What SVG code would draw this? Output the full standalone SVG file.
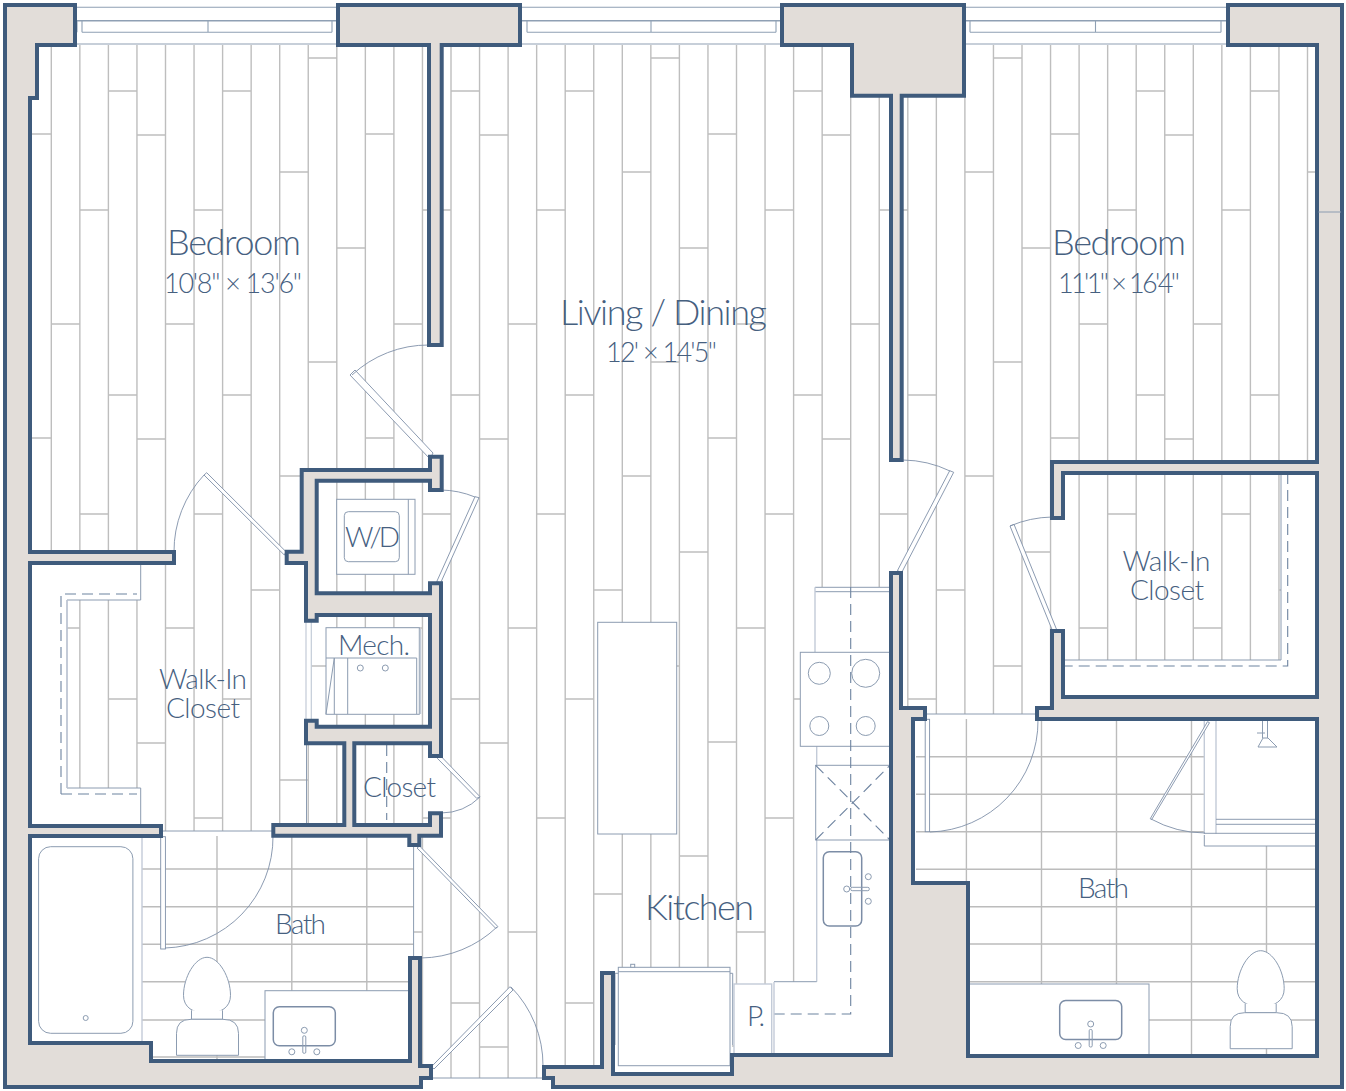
<svg xmlns="http://www.w3.org/2000/svg" xmlns:xlink="http://www.w3.org/1999/xlink" width="1346" height="1091" viewBox="0 0 1346 1091">
<style>
.plank{fill:none;stroke:#bebebe;stroke-width:1.4}
.tile{fill:none;stroke:#bcbcbc;stroke-width:1.4}
.wall{fill:#e2ddd9;stroke:#3f5b7c;stroke-width:4;stroke-linejoin:miter}
.fx{fill:#fff;stroke:#8c9cb1;stroke-width:1}
.ln{fill:none;stroke:#8c9cb1;stroke-width:1}
.lt{fill:none;stroke:#c3cbd8;stroke-width:1.4}
.win{fill:none;stroke:#8fa0b4;stroke-width:1.1}
.leaf{fill:#fff;stroke:#7f90a8;stroke-width:.9}
.arc{fill:none;stroke:#7f90a8;stroke-width:.9}
.dash{fill:none;stroke:#6d83a0;stroke-width:1.1;stroke-dasharray:11 6}
.sink{fill:#fff;stroke:#7c8da6;stroke-width:1.5}
.big{font-family:"Lato","Open Sans",sans-serif;font-weight:300;font-size:36px;fill:#46607f}
.mid{font-family:"Lato","Open Sans",sans-serif;font-weight:300;font-size:28px;fill:#46607f}
.dim{font-family:"Lato","Open Sans",sans-serif;font-weight:300;font-size:27px;fill:#46607f}
</style>
<defs>
<clipPath id="floorClip"><rect x="6" y="45" width="1334" height="1033"/></clipPath>
<g id="plankRun">
<path class="plank" d="M51.3 45V1078M79.85 45V1078M108.4 45V1078M136.95 45V1078M165.5 45V1078M194.05 45V1078M222.6 45V1078M251.15 45V1078M279.7 45V1078M308.25 45V1078M336.8 45V1078M365.35 45V1078
M51.3 324H79.85M51.3 628H79.85M51.3 932H79.85
M79.85 210H108.4M79.85 514H108.4M79.85 818H108.4
M108.4 91H136.95M108.4 395H136.95M108.4 699H136.95M108.4 1003H136.95
M136.95 135H165.5M136.95 439H165.5M136.95 743H165.5M136.95 1047H165.5
M165.5 324H194.05M165.5 628H194.05M165.5 932H194.05
M194.05 210H222.6M194.05 514H222.6M194.05 818H222.6
M222.6 91H251.15M222.6 395H251.15M222.6 699H251.15M222.6 1003H251.15
M251.15 590H279.7M251.15 894H279.7
M279.7 172H308.25M279.7 476H308.25M279.7 780H308.25
M308.25 58H336.8M308.25 362H336.8M308.25 666H336.8M308.25 970H336.8
M336.8 248H365.35M336.8 552H365.35M336.8 856H365.35
M365.35 134H393.9M365.35 438H393.9M365.35 742H393.9M365.35 1046H393.9"/>
</g>
<g id="eggToilet">
<path class="fx" d="M0 0C12 0 23.500 20 23.500 38C23.500 50 14 56 0 56C-14 56 -23.500 50 -23.500 38C-23.500 20 -12 0 0 0Z"/>
<path class="fx" d="M-15.500 53V62H15.500V53"/>
<path class="fx" d="M-30.500 98V76Q-30.500 62 -16 62H16Q31.500 62 31.500 76V98Z"/>
</g>
<g id="vanitySink">
<rect class="sink" x="-31" y="-23.500" width="62" height="39" rx="6"/>
<circle class="ln" cx="0" cy="0" r="3"/>
<rect class="ln" x="-1.500" y="5.500" width="3" height="17.500" rx="1.200"/>
<circle class="ln" cx="-12.500" cy="21.500" r="3"/>
<circle class="ln" cx="12.500" cy="21.500" r="3"/>
</g>
</defs>
<rect width="1346" height="1091" fill="#fff"/>

<g id="flooring" clip-path="url(#floorClip)">
<use xlink:href="#plankRun" href="#plankRun" x="-342.6"/>
<use xlink:href="#plankRun" href="#plankRun"/>
<use xlink:href="#plankRun" href="#plankRun" x="342.6"/>
<use xlink:href="#plankRun" href="#plankRun" x="685.2"/>
<use xlink:href="#plankRun" href="#plankRun" x="1027.8"/>
</g>

<g id="windows">
<path class="win" d="M75 7.300H338M82 32.300H332M75 44H338M82 20.700V32.300M208 20.700V32.300M332 20.700V32.300M77 20.700V32.300"/>
<path class="win" d="M520 7.300H782M527 32.300H776M520 44H782M527 20.700V32.300M651 20.700V32.300M776 20.700V32.300"/>
<path class="win" d="M964 7.300H1228M970 32.300H1221M964 44H1228M970 20.700V32.300M1095.500 20.700V32.300M1221 20.700V32.300"/>
<path class="win" style="stroke-width:1.600" d="M75 20.700H338M520 20.700H782M964 20.700H1228"/>
</g>

<g id="left-walk-in-shelving">
<path fill="#fff" stroke="none" d="M30 563H140.700V600H67V788H140.700V826H30Z"/>
<path class="ln" d="M140.700 563V600H67V788H140.700V826"/>
<path class="lt" d="M67 600V788"/>
<path class="dash" d="M61 794V594H137M61 794H137"/>
</g>

<g id="right-walk-in-shelving">
<path fill="#fff" stroke="none" d="M1281 473H1317V697H1063V660H1281Z"/>
<path class="ln" d="M1281 473V660H1063"/>
<path class="dash" d="M1287.700 473V666H1063"/>
</g>

<g id="left-bath">
<rect x="30" y="831" width="384" height="231" fill="#fff"/>
<path class="tile" d="M142 869H414M142 906.700H414M142 944.300H414M142 981.700H414M142 1020H414M142 1057H414M217 836V1061M291.800 836V1061M366.800 836V1061"/>
<path class="ln" d="M161 831H273M413.600 836V958"/>
<path class="lt" d="M142 836V1043"/>
<rect class="fx" x="38.600" y="846.700" width="94.300" height="186.600" rx="12"/>
<circle class="ln" cx="85.700" cy="1018" r="2.500"/>
<use xlink:href="#eggToilet" href="#eggToilet" x="207" y="957.300"/>
<rect class="fx" x="265" y="990.700" width="145" height="70"/>
<use xlink:href="#vanitySink" href="#vanitySink" x="304.300" y="1030.300"/>
</g>

<g id="right-bath">
<rect x="913" y="714" width="404" height="342" fill="#fff"/>
<path class="tile" d="M916 756.700H1317M916 794.300H1317M916 831.700H1317M916 869.300H1317M968 906.700H1317M968 944H1317M968 981.700H1317M968 1020H1317M966.400 719V1056M1041.500 719V1056M1116.500 719V1056M1191.500 719V1056M1266.500 846V1056"/>
<path class="ln" d="M925 714H1037"/>
<rect x="1204.300" y="719" width="113" height="127" fill="#fff"/>
<path class="lt" d="M1204.300 719V834M1216 719V834"/>
<path class="ln" d="M1216 819.300H1317M1216 824.300H1317M1204.300 833.300H1317M1204.300 835V846H1317"/>
<path class="ln" d="M1262.500 721V738M1267.500 721V738M1257 733H1265M1258 747L1263 738H1268L1277 747Z"/>
<rect class="fx" x="968" y="984" width="181" height="72"/>
<use xlink:href="#vanitySink" href="#vanitySink" x="1090.700" y="1024"/>
<use xlink:href="#eggToilet" href="#eggToilet" x="1260.700" y="950.700"/>
</g>

<g id="kitchen">
<rect class="fx" x="597.700" y="622.300" width="79" height="211.700"/>
<path fill="#fff" stroke="none" d="M815 587H890V1055H774V982H817V746H800V652H815Z"/>
<path class="ln" d="M815 587.300H890M815 591.700H890"/>
<path class="lt" d="M815 587.300V652.300M816.700 746V981.700"/>
<path class="ln" d="M816.700 981.700H774"/>
<rect class="fx" x="800.300" y="652.300" width="89.700" height="94"/>
<circle class="ln" cx="819.300" cy="673.300" r="11"/>
<circle class="ln" cx="865.700" cy="673.300" r="14"/>
<circle class="ln" cx="819.300" cy="726" r="9.500"/>
<circle class="ln" cx="865.700" cy="726" r="9.500"/>
<rect class="fx" x="815.700" y="765.300" width="74.300" height="74.700"/>
<path class="dash" d="M815.700 840L890 765.300M815.700 765.300L890 840"/>
<rect class="sink" x="823.300" y="851.700" width="38.400" height="74.300" rx="6"/>
<circle class="ln" cx="846.700" cy="889" r="3"/>
<circle class="ln" cx="868.300" cy="876.700" r="3"/>
<circle class="ln" cx="868.300" cy="901.300" r="3"/>
<rect class="ln" x="850.700" y="887.300" width="18.600" height="3.400" rx="1.500"/>
<path class="dash" d="M850.700 587V1014H774"/>
<rect x="613" y="973" width="119" height="101" fill="#fff"/>
<rect class="fx" x="618.300" y="967.300" width="111.700" height="98.400"/>
<path class="ln" d="M618.300 971.700H730M615 1045V973.300H618.300M732.700 1045V973.300H730"/>
<rect class="fx" x="630.700" y="964.300" width="4" height="3"/>
<rect x="734" y="984" width="37.700" height="71" fill="#fff" stroke="#c3cbd8" stroke-width="1.400"/>
<path class="lt" d="M774 982V1055"/>
</g>

<g id="laundry-and-mech">
<rect class="fx" x="336.700" y="499.300" width="78.300" height="75"/>
<path class="ln" d="M408.300 499.300V574.300"/>
<rect class="ln" x="344.300" y="511.700" width="55" height="50" rx="4"/>
<rect class="fx" x="326" y="627.700" width="93.300" height="86.600"/>
<path class="lt" d="M420.500 629V714"/>
<path class="ln" d="M326 658H416.700V714M334.300 658V714M347.700 658V714M334.300 658L326 714"/>
<circle class="ln" cx="360.300" cy="668" r="3"/>
<circle class="ln" cx="385.300" cy="668" r="3"/>
<path class="dash" d="M386.700 745V820"/>
<path class="ln" d="M306.500 743V826"/>
<rect x="306" y="621" width="5.300" height="99" fill="#fff" stroke="#c3cbd8" stroke-width="1.200"/>
</g>

<g id="doors">
<path class="leaf" d="M355 370L433 453L430 459L350 375Z"/>
<path class="arc" d="M429 345A112 112 0 0 0 352 375"/>
<path class="leaf" d="M206.700 472.700L286 551.700L284.300 555L204 475Z"/>
<path class="arc" d="M174 552A112 112 0 0 1 204 475"/>
<path class="leaf" d="M475 496.700L479 497.700L440.700 582.700L436.700 581.700Z"/>
<path class="arc" d="M441 490A93 93 0 0 1 475 497"/>
<path class="leaf" d="M437.300 758.300L440.700 756L480 796.700L476.700 798.300Z"/>
<path class="arc" d="M441 813A56 56 0 0 0 480 797"/>
<path class="leaf" d="M417 848L419.600 846L498 926.700L495.700 928.300Z"/>
<path class="arc" d="M421 958A112 112 0 0 0 497 927"/>
<path class="leaf" d="M431.400 1066.700L434 1069L513 990L510 986.700Z"/>
<path class="arc" d="M511 987A112 112 0 0 1 543 1066"/>
<path class="ln" d="M431 1078H544"/>
<rect class="leaf" x="160.700" y="836.700" width="4.700" height="112.300"/>
<path class="arc" d="M273 836A111 111 0 0 1 165 948"/>
<path class="leaf" d="M897.400 570.700L901.800 572.300L953.700 472.300L949.700 470.700Z"/>
<path class="arc" d="M903 460A112 112 0 0 1 950 471"/>
<path class="leaf" d="M1010 526L1014 524.300L1056.500 629.300L1052.500 630.700Z"/>
<path class="arc" d="M1052 517A113 113 0 0 0 1010 526"/>
<rect class="leaf" x="925.200" y="719.300" width="4.400" height="112.400"/>
<path class="arc" d="M1038 720A111 111 0 0 1 930 832"/>
<path class="leaf" d="M1207.500 721.700L1209.500 722.700L1151.700 819.500L1150.200 818.800Z"/>
<path class="arc" d="M1151 819A114 114 0 0 0 1205 833"/>
</g>

<g id="walls">
<path id="wall-west" class="wall" d="M5 5H75V45H37V98H30V552H174V563H30V826H161V836H30V1043H151V1061H410V958H420V1066H431V1078H421V1087H5Z"/>
<path id="wall-north-centre" class="wall" d="M338 5H520V45H441.700V345H429V45H338Z"/>
<path id="wall-north-east" class="wall" d="M782 5H964V95.700H901.700V460H891V95.700H852V45H782Z"/>
<path id="wall-core" class="wall" d="M441.700 456.700H430V470H301.700V551.700H286.700V563H306V620.700H316.700V615H430V726.700H316.700V720.700H306V743.300H344.300V825H273.300V835.700H409.300V845H419.300V835.700H441V813.300H430V825H354.300V743.300H430V756H441V583.300H430V593.300H316.700V480.700H430V490H441.700Z"/>
<path id="wall-east" class="wall" d="M891 1055V573H901V708H925V719H913V883H968V1056H1317V719H1037V708H1052V631H1063V697H1317V473H1063V518H1052V462H1317V45H1228V5H1342V1087H553V1078H544V1067H602V973H613V1074H732V1055Z"/>
<path class="ln" d="M1318.500 212H1341"/>
</g>

<g id="labels">
<text class="big" x="167" y="255" textLength="134" lengthAdjust="spacing">Bedroom</text>
<text class="dim" x="164" y="292.500" textLength="138" lengthAdjust="spacing">10'8" × 13'6"</text>
<text class="big" x="560" y="325" textLength="207" lengthAdjust="spacing">Living / Dining</text>
<text class="dim" x="606" y="362" textLength="111" lengthAdjust="spacing">12' × 14'5"</text>
<text class="big" x="1052" y="255" textLength="134" lengthAdjust="spacing">Bedroom</text>
<text class="dim" x="1058" y="292.500" textLength="122" lengthAdjust="spacing">11'1" × 16'4"</text>
<text class="mid" x="159" y="688.500" textLength="88" lengthAdjust="spacing">Walk-In</text>
<text class="mid" x="166" y="718" textLength="74" lengthAdjust="spacing">Closet</text>
<text class="mid" x="1122.500" y="571" textLength="88" lengthAdjust="spacing">Walk-In</text>
<text class="mid" x="1130" y="600" textLength="74" lengthAdjust="spacing">Closet</text>
<text class="mid" x="345" y="547" textLength="55" lengthAdjust="spacing">W/D</text>
<text class="mid" x="338" y="655" textLength="72" lengthAdjust="spacing">Mech.</text>
<text class="mid" x="363" y="797" textLength="73" lengthAdjust="spacing">Closet</text>
<text class="mid" x="275" y="934" textLength="51" lengthAdjust="spacing">Bath</text>
<text class="mid" x="1078" y="898" textLength="51" lengthAdjust="spacing">Bath</text>
<text class="big" x="645" y="920" textLength="109" lengthAdjust="spacing">Kitchen</text>
<text class="mid" x="747" y="1026" textLength="18" lengthAdjust="spacing">P.</text>
</g>
</svg>
